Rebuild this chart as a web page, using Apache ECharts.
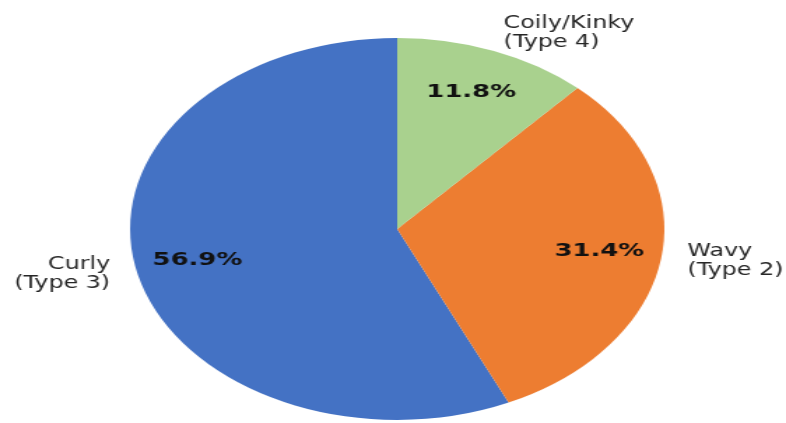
<!DOCTYPE html>
<html>
<head>
<meta charset="utf-8">
<script src="https://cdn.jsdelivr.net/npm/echarts@6/dist/echarts.min.js"></script>
<style>
  html, body { margin: 0; padding: 0; background: #ffffff; overflow: hidden; }
  /* the figure is laid out on a narrower canvas and widened to 786px */
  #chart { width: 562px; height: 423px; transform: scaleX(1.3986); transform-origin: 0 0; }
</style>
</head>
<body>
<div id="chart"></div>
<script>
// Hair type distribution
const categories = ['Curly\n(Type 3)', 'Wavy\n(Type 2)', 'Coily/Kinky\n(Type 4)'];
const shares = [56.9, 31.4, 11.8];
const colors = ['#4472C4', '#ED7D31', '#A9D18E'];

const R = 191;
const center = [284, 229];

const chart = echarts.init(document.getElementById('chart'));

const sliceData = categories.map((name, i) => ({
  name: name,
  value: shares[i],
  itemStyle: { color: colors[i] }
}));

const labelData = categories.map((name, i) => ({
  name: name,
  value: shares[i]
}));

chart.setOption({
  animation: false,
  backgroundColor: '#ffffff',
  series: [
    {
      // wedges with category names just outside the rim
      type: 'pie',
      center: center,
      radius: [0, R],
      startAngle: 90,
      clockwise: false,
      avoidLabelOverlap: false,
      silent: true,
      itemStyle: { borderWidth: 0 },
      label: {
        show: true,
        position: 'outside',
        formatter: p => p.name,
        fontFamily: 'DejaVu Sans',
        fontSize: 17,
        lineHeight: 19,
        color: '#262626',
        distanceToLabelLine: 0
      },
      labelLine: { show: false, length: 0.1 * R, length2: 0 },
      data: sliceData
    },
    {
      // transparent ring that places the percentages at 0.75 of the radius
      type: 'pie',
      center: center,
      radius: [0, 1.5 * R],
      startAngle: 90,
      clockwise: false,
      avoidLabelOverlap: false,
      silent: true,
      itemStyle: { color: 'rgba(0,0,0,0)', borderWidth: 0 },
      label: {
        show: true,
        position: 'inside',
        formatter: p => p.value.toFixed(1) + '%',
        fontFamily: 'DejaVu Sans',
        fontWeight: 'bold',
        fontSize: 18.5,
        color: '#111111'
      },
      labelLine: { show: false },
      data: labelData
    }
  ]
});
</script>
</body>
</html>
